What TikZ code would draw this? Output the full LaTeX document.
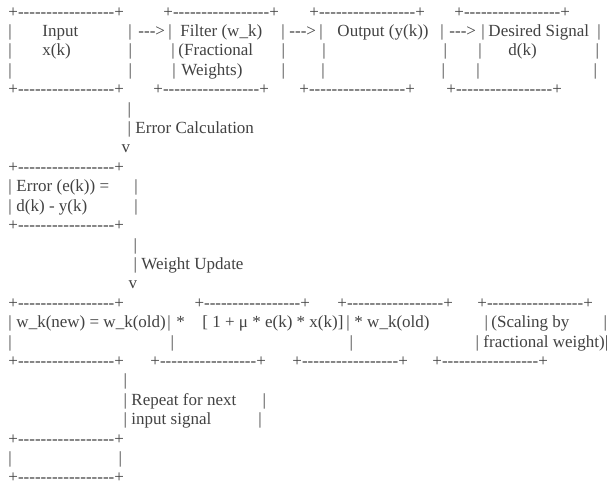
\documentclass[tikz,border=0pt]{standalone}
\usepackage{fontspec}
\newfontfamily\asc{Liberation Serif}
\definecolor{ink}{RGB}{66,66,66}
\newcommand\pa[2]{\makebox[0pt][l]{\hspace*{#1pt}#2}}
\newcommand\dsh{\hbox{-}}
\newcommand\bordl{+\dsh\dsh\dsh\dsh\dsh\dsh\dsh\dsh\dsh\dsh\dsh\dsh\dsh\dsh\dsh\dsh\dsh+}
\newcommand\arr{\dsh\dsh\dsh>}
\tikzset{row/.style={anchor=base west, inner sep=0pt, outer sep=0pt, text=ink,
  font=\asc\fontsize{17}{19.4}\selectfont}}
\begin{document}
\begin{tikzpicture}[x=1pt,y=-1pt]
\fill[white] (0,0) rectangle (609,486);
\useasboundingbox (0,0) rectangle (609,486);
% top row of boxes
\node[row] (r01) at (0,17.2) {\pa{8}{\bordl}\pa{163}{\bordl}\pa{309}{\bordl}\pa{454}{\bordl}};
\node[row] (r02) at (0,36.6) {\pa{8}{|}\pa{42}{Input}\pa{128}{|}\pa{138}{\arr}\pa{168}{|}\pa{180}{Filter (w\_k)}\pa{281}{|}\pa{289}{\arr}\pa{319}{|}\pa{337}{Output (y(k))}\pa{440}{|}\pa{449}{\arr}\pa{481}{|}\pa{488}{Desired Signal}\pa{597}{|}};
\node[row] (r03) at (0,56) {\pa{8}{|}\pa{42}{x(k)}\pa{128}{|}\pa{171}{|}\pa{178}{(Fractional}\pa{281}{|}\pa{322}{|}\pa{443}{|}\pa{478}{|}\pa{508}{d(k)}\pa{595}{|}};
\node[row] (r04) at (0,75.4) {\pa{8}{|}\pa{128}{|}\pa{172}{|}\pa{181}{Weights)}\pa{281}{|}\pa{321}{|}\pa{441}{|}\pa{476}{|}\pa{593}{|}};
\node[row] (r05) at (0,94.8) {\pa{8}{\bordl}\pa{153}{\bordl}\pa{299}{\bordl}\pa{446}{\bordl}};
% error calculation
\node[row] (r06) at (0,114.2) {\pa{127}{|}};
\node[row] (r07) at (0,133.6) {\pa{127}{|}\pa{135}{Error Calculation}};
\node[row] (r08) at (0,153) {\pa{121}{v}};
\node[row] (r09) at (0,172.4) {\pa{8}{\bordl}};
\node[row] (r10) at (0,191.8) {\pa{8}{|}\pa{16}{Error (e(k)) =}\pa{134}{|}};
\node[row] (r11) at (0,211.2) {\pa{8}{|}\pa{16}{d(k) - y(k)}\pa{134}{|}};
\node[row] (r12) at (0,230.6) {\pa{8}{\bordl}};
% weight update
\node[row] (r13) at (0,250) {\pa{133}{|}};
\node[row] (r14) at (0,269.4) {\pa{133}{|}\pa{141}{Weight Update}};
\node[row] (r15) at (0,288.8) {\pa{128}{v}};
\node[row] (r16) at (0,308.2) {\pa{8}{\bordl}\pa{194}{\bordl}\pa{337}{\bordl}\pa{477}{\bordl}};
\node[row] (r17) at (0,327.6) {\pa{8}{|}\pa{16}{w\_k(new) = w\_k(old)}\pa{167}{|}\pa{176}{*}\pa{202}{[ 1 + μ * e(k) * x(k)]}\pa{346}{|}\pa{354}{* w\_k(old)}\pa{484}{|}\pa{491}{(Scaling by}\pa{603}{|}};
\node[row] (r18) at (0,347) {\pa{8}{|}\pa{170}{|}\pa{349}{|}\pa{475}{|}\pa{483}{fractional weight)|}};
\node[row] (r19) at (0,366.4) {\pa{8}{\bordl}\pa{150}{\bordl}\pa{292}{\bordl}\pa{432}{\bordl}};
% repeat
\node[row] (r20) at (0,385.8) {\pa{123}{|}};
\node[row] (r21) at (0,405.2) {\pa{123}{|}\pa{131}{Repeat for next}\pa{262}{|}};
\node[row] (r22) at (0,424.6) {\pa{123}{|}\pa{131}{input signal}\pa{258}{|}};
\node[row] (r23) at (0,444) {\pa{8}{\bordl}};
\node[row] (r24) at (0,463.4) {\pa{8}{|}\pa{118}{|}};
\node[row] (r25) at (0,482.6) {\pa{8}{\bordl}};
\end{tikzpicture}
\end{document}
